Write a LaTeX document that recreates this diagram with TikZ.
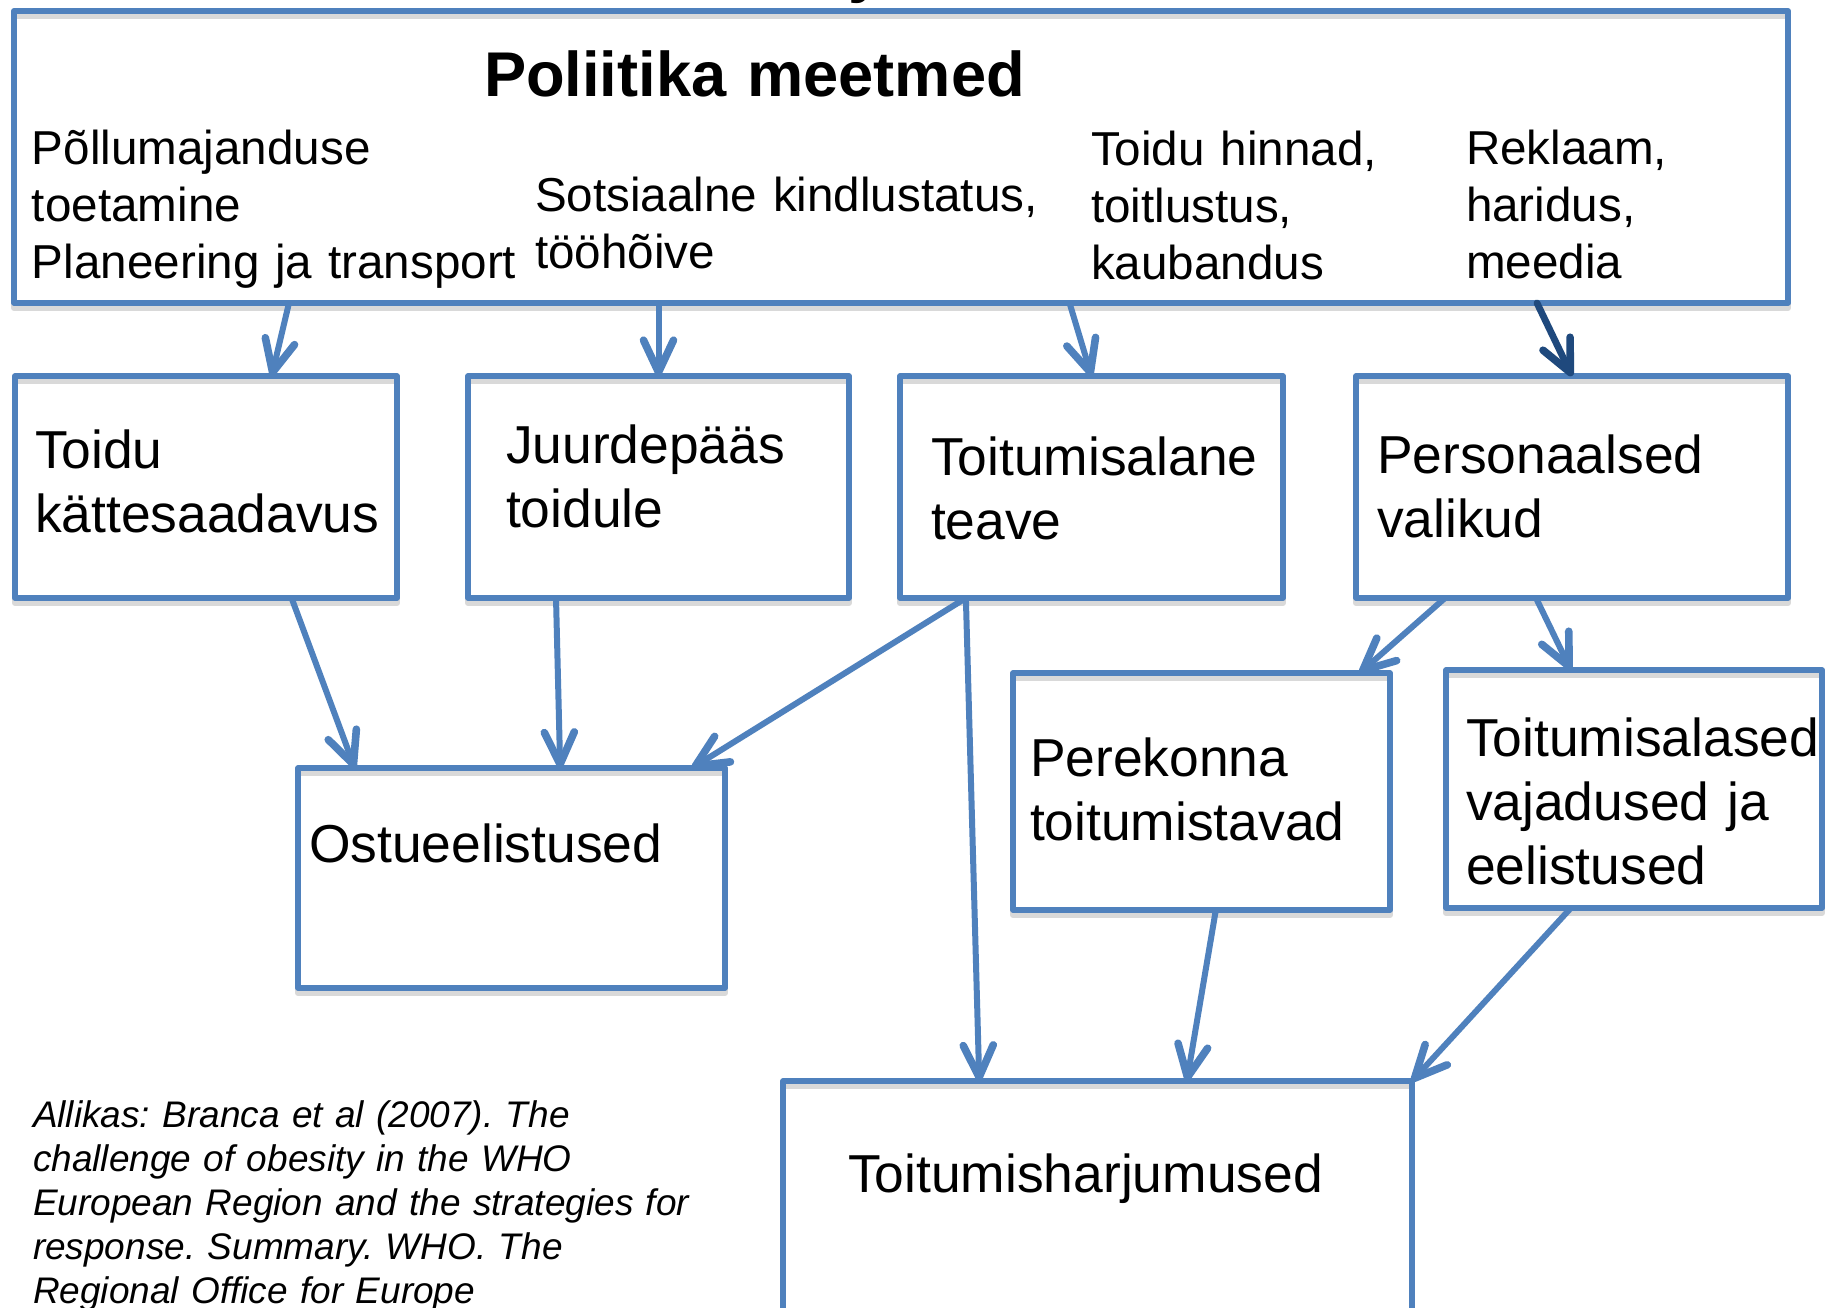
\documentclass[tikz,border=0pt]{standalone}
\usepackage{fontspec}
\setmainfont{Liberation Sans}
\usetikzlibrary{arrows.meta,calc}
\definecolor{boxblue}{RGB}{79,129,189}
\definecolor{darkblue}{RGB}{31,73,125}
\tikzset{
  box/.style={rectangle, draw=boxblue, line width=2.9pt, line join=round, inner sep=0pt, outer sep=0pt,
    preaction={draw=black, opacity=0.15, line width=3pt, transform canvas={yshift=-2.5pt}}},
  arr/.style={draw=boxblue, line width=3pt, line cap=round,
    -{Straight Barb[length=16pt, width=15pt, line width=3.8pt, line cap=round, line join=round]}},
  txt/.style={anchor=base west, inner sep=0pt, outer sep=0pt, align=left, text width=#1},
  txt/.default=330pt,
  boxfont/.style={font=\fontsize{26.7pt}{32pt}\selectfont},
  topfont/.style={font=\fontsize{23.8pt}{28.6pt}\selectfont},
  titlefont/.style={font=\fontsize{31.6pt}{36pt}\selectfont\bfseries},
  notefont/.style={font=\fontsize{18.5pt}{22pt}\selectfont\itshape}
}
\begin{document}
\frenchspacing
\begin{tikzpicture}[x=0.5pt,y=-0.5pt]
\useasboundingbox (0,0) rectangle (1825,1307);
\clip (0,0) rectangle (1825,1307);
\fill[white] (0,0) rectangle (1825,1307);

% cut-off title fragment
\node[titlefont, anchor=base, inner sep=0pt] (cut) at (866,-10) {y};

% boxes
\node[box, minimum width=887pt, minimum height=146pt] (pm) at (901,157) {};
\node[box, minimum width=191pt, minimum height=111pt] (tk) at (206,487) {};
\node[box, minimum width=190.5pt, minimum height=111pt] (jp) at (658.5,487) {};
\node[box, minimum width=191.5pt, minimum height=111pt] (ta) at (1091.5,487) {};
\node[box, minimum width=216pt, minimum height=111pt] (pv) at (1572,487) {};
\node[box, minimum width=213.5pt, minimum height=110pt] (oe) at (511.5,878) {};
\node[box, minimum width=188.5pt, minimum height=118.5pt] (pt) at (1201.5,791.5) {};
\node[box, minimum width=188pt, minimum height=119pt] (tv) at (1634,789) {};
\node[box, minimum width=314.5pt, minimum height=124.5pt] (th) at (1097.5,1205.5) {};

% texts in top box
\node[txt, titlefont] (title) at (484,96) {Poliitika meetmed};
\node[txt, topfont] (t1) at (32,164) {Põllumajanduse\\toetamine\\Planeering ja transport};
\node[txt, topfont] (t2) at (535,211) {Sotsiaalne kindlustatus,\\tööhõive};
\node[txt, topfont] (t3) at (1091,165) {Toidu hinnad,\\toitlustus,\\kaubandus};
\node[txt, topfont] (t4) at (1466,164) {Reklaam,\\haridus,\\meedia};

% texts in boxes
\node[txt, boxfont] (tkt) at (35,468) {Toidu\\kättesaadavus};
\node[txt, boxfont] (jpt) at (506,463) {Juurdepääs\\toidule};
\node[txt, boxfont] (tat) at (931,475) {Toitumisalane\\teave};
\node[txt, boxfont] (pvt) at (1377,473) {Personaalsed\\valikud};
\node[txt, boxfont] (oet) at (309,862) {Ostueelistused};
\node[txt, boxfont] (ptt) at (1030,776) {Perekonna\\toitumistavad};
\node[txt, boxfont] (tvt) at (1466,756) {Toitumisalased\\vajadused ja\\eelistused};
\node[txt, boxfont] (tht) at (848,1192) {Toitumisharjumused};

% source note
\node[txt=420pt, notefont] (src) at (33,1127) {Allikas: Branca et al (2007). The\\challenge of obesity in the WHO\\European Region and the strategies for\\response. Summary. WHO. The\\Regional Office for Europe};

% connectors
\draw[arr] ($(pm.south west)!0.155!(pm.south east)$) -- ($(tk.north west)!0.672!(tk.north east)$);
\draw[arr] (pm.south -| jp.north) -- (jp.north);
\draw[arr] ($(pm.south west)!0.595!(pm.south east)$) -- (ta.north);
\draw[arr, draw=darkblue, line width=3.4pt] ($(pm.south west)!0.8585!(pm.south east)$) -- (pv.north);
\draw[arr] ($(tk.south west)!0.724!(tk.south east)$) -- ($(oe.north west)!0.133!(oe.north east)$);
\draw[arr] ($(jp.south west)!0.231!(jp.south east)$) -- ($(oe.north west)!0.614!(oe.north east)$);
\coordinate (tas) at ($(ta.south west)!0.172!(ta.south east)$);
\draw[arr] (tas) -- ($(oe.north west)!0.923!(oe.north east)$);
\draw[arr] (tas) -- ($(th.north west)!0.312!(th.north east)$);
\draw[arr] ($(pv.south west)!0.206!(pv.south east)$) -- ($(pt.north west)!0.920!(pt.north east)$);
\draw[arr] ($(pv.south west)!0.4167!(pv.south east)$) -- ($(tv.north west)!0.332!(tv.north east)$);
\draw[arr] ($(pt.south west)!0.538!(pt.south east)$) -- ($(th.north west)!0.642!(th.north east)$);
\draw[arr] ($(tv.south west)!0.332!(tv.south east)$) -- (th.north east);
\end{tikzpicture}
\end{document}
